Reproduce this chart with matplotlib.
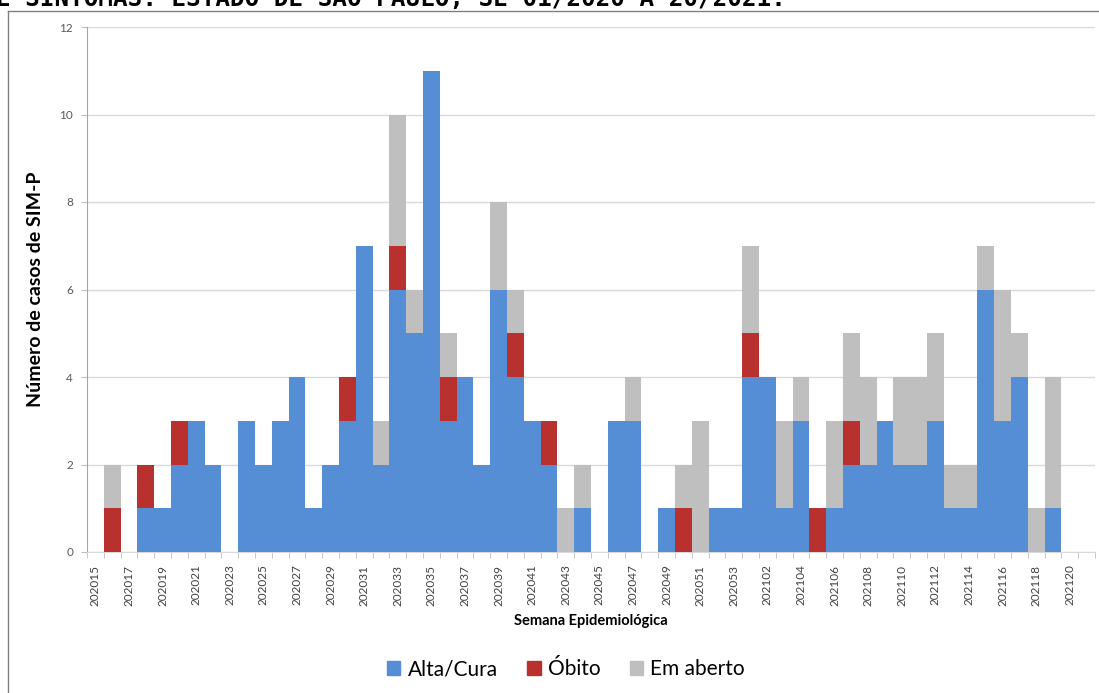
import matplotlib.pyplot as plt
import numpy as np
from matplotlib.patches import Patch
from matplotlib.lines import Line2D

plt.rcParams['font.family'] = ['Lato', 'DejaVu Sans']

# Semanas epidemiológicas 2020/15 a 2021/21
semanas = [f"2020{w:02d}" for w in range(15, 54)] + [f"2021{w:02d}" for w in range(1, 22)]

alta_cura = [0, 0, 0, 1, 1, 2, 3, 2, 0, 3, 2, 3, 4, 1, 2, 3, 7, 2, 6, 5,
             11, 3, 4, 2, 6, 4, 3, 2, 0, 1, 0, 3, 3, 0, 1, 0, 0, 1, 1, 4,
             4, 1, 3, 0, 1, 2, 2, 3, 2, 2, 3, 1, 1, 6, 3, 4, 0, 1, 0, 0]
obito = [0, 1, 0, 1, 0, 1, 0, 0, 0, 0, 0, 0, 0, 0, 0, 1, 0, 0, 1, 0,
         0, 1, 0, 0, 0, 1, 0, 1, 0, 0, 0, 0, 0, 0, 0, 1, 0, 0, 0, 1,
         0, 0, 0, 1, 0, 1, 0, 0, 0, 0, 0, 0, 0, 0, 0, 0, 0, 0, 0, 0]
em_aberto = [0, 1, 0, 0, 0, 0, 0, 0, 0, 0, 0, 0, 0, 0, 0, 0, 0, 1, 3, 1,
             0, 1, 0, 0, 2, 1, 0, 0, 1, 1, 0, 0, 1, 0, 0, 1, 3, 0, 0, 2,
             0, 2, 1, 0, 2, 2, 2, 0, 2, 2, 2, 1, 1, 1, 3, 1, 1, 3, 0, 0]

azul = '#558ed5'
vermelho = '#b9312e'
cinza = '#bfbfbf'

fig = plt.figure(figsize=(10.99, 6.93), dpi=100)
ax = fig.add_axes([87 / 1099, 141 / 693, 1008 / 1099, 525 / 693])

x = np.arange(len(semanas))
a = np.array(alta_cura)
o = np.array(obito)
e = np.array(em_aberto)

ax.bar(x, a, width=1.0, color=azul, zorder=3)
ax.bar(x, o, width=1.0, bottom=a, color=vermelho, zorder=3)
ax.bar(x, e, width=1.0, bottom=a + o, color=cinza, zorder=3)

ax.set_xlim(-0.5, len(semanas) - 0.5)
ax.set_ylim(0, 12)
ax.set_yticks(range(0, 13, 2))
ax.yaxis.grid(True, color='#d9d9d9', linewidth=1, zorder=0)
ax.tick_params(axis='y', labelsize=8.5, labelcolor='#595959', color='#bfbfbf', length=4, pad=6)

# rótulos a cada duas semanas, marcas entre as categorias
ax.set_xticks(x[::2])
ax.set_xticklabels(semanas[::2], rotation=90, fontsize=8.5, color='#404040')
ax.set_xticks(np.arange(-0.5, len(semanas) + 0.5, 1), minor=True)
ax.tick_params(axis='x', which='major', length=0, pad=9)
ax.tick_params(axis='x', which='minor', length=4, color='#bfbfbf')

for s in ['top', 'right']:
    ax.spines[s].set_visible(False)
ax.spines['left'].set_color('#a6a6a6')
ax.spines['bottom'].set_color('#d9d9d9')

ax.set_xlabel('Semana Epidemiológica', fontsize=10.5, fontweight='bold', labelpad=6)
ax.set_ylabel('Número de casos de SIM-P', fontsize=14, fontweight='bold')
ax.yaxis.set_label_coords(-0.043, 0.5)

handles = [Patch(color=azul, label='Alta/Cura'),
           Patch(color=vermelho, label='Óbito'),
           Patch(color=cinza, label='Em aberto')]
fig.legend(handles=handles, loc='center', bbox_to_anchor=(0.515, 0.034), ncol=3,
           frameon=False, fontsize=15, handlelength=0.65, handleheight=0.65,
           handletextpad=0.35, columnspacing=1.4)

# moldura e título cortado do documento original
fig.add_artist(Line2D([8 / 1099, 1], [1 - 10.5 / 693] * 2, color='#808080', linewidth=1))
fig.add_artist(Line2D([8 / 1099] * 2, [0, 1 - 10.5 / 693], color='#808080', linewidth=1))
fig.text(-0.004, 1 - 6 / 693, 'E SINTOMAS. ESTADO DE SÃO PAULO, SE 01/2020 A 20/2021.',
         family='DejaVu Sans Mono', fontweight='bold', fontsize=17.5, va='baseline', ha='left')

fig.savefig('out.png', dpi=100)
